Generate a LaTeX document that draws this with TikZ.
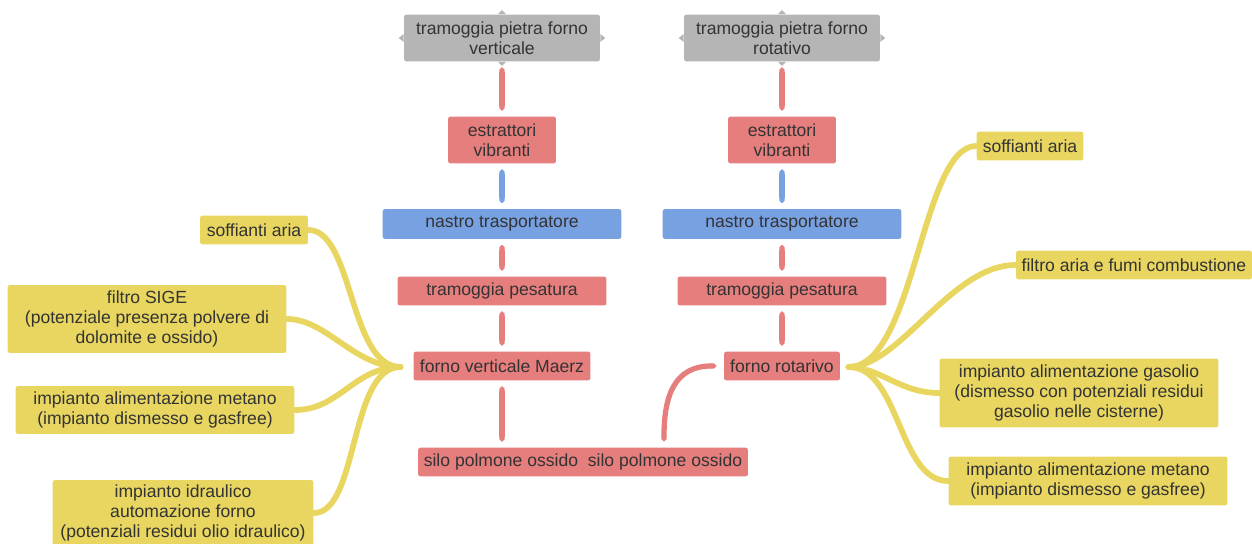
\documentclass[tikz,border=0pt]{standalone}
\usepackage{fontspec}
\setmainfont{Liberation Sans}
\usetikzlibrary{arrows.meta}
\definecolor{hopgray}{RGB}{181,181,181}
\definecolor{kilnred}{RGB}{229,126,124}
\definecolor{beltblue}{RGB}{120,161,226}
\definecolor{auxyellow}{RGB}{232,214,96}
\definecolor{txt}{RGB}{51,51,51}
\begin{document}
\begin{tikzpicture}[x=0.02cm, y=-0.02cm,
  box/.style={rounded corners=1.5pt, inner sep=0pt, align=center, text=txt,
    font=\fontsize{10}{11.3}\selectfont},
  hopbox/.style={box, fill=hopgray, minimum width=3.92cm, minimum height=0.94cm},
  redbox/.style={box, fill=kilnred},
  bluebox/.style={box, fill=beltblue},
  auxbox/.style={box, fill=auxyellow},
  redlink/.style={draw=kilnred, line width=3pt, {Triangle Cap}-{Triangle Cap},
    shorten <=3pt, shorten >=3pt},
  bluelink/.style={redlink, draw=beltblue},
  auxlink/.style={draw=auxyellow, line width=3.3pt, line cap=round,
    shorten >=2pt}]
  \useasboundingbox (0,0) rectangle (1252,544);

  % hoppers
  \node[hopbox] (vhop) at (502,38) {tramoggia pietra forno\\verticale};
  \node[hopbox] (rhop) at (782,38) {tramoggia pietra forno\\rotativo};
  \foreach \h in {vhop,rhop} {
    \fill[hopgray] (\h.north) ++(-4,0) -- ++(4,-4) -- ++(4,4) -- cycle;
    \fill[hopgray] (\h.south) ++(-4,0) -- ++(4,4) -- ++(4,-4) -- cycle;
    \fill[hopgray] (\h.west) ++(0,-4) -- ++(-5,4) -- ++(5,4) -- cycle;
    \fill[hopgray] (\h.east) ++(0,-4) -- ++(5,4) -- ++(-5,4) -- cycle;
  }

  % vertical kiln line
  \node[redbox, minimum width=2.16cm, minimum height=0.94cm] (vext) at (502,140) {estrattori\\vibranti};
  \node[bluebox, minimum width=4.78cm, minimum height=0.6cm] (vbelt) at (502,224) {nastro trasportatore};
  \node[redbox, minimum width=4.18cm, minimum height=0.58cm] (vweigh) at (502,291) {tramoggia pesatura};
  \node[redbox, minimum width=3.54cm, minimum height=0.58cm] (vkiln) at (502,366) {forno verticale Maerz};

  % rotary kiln line
  \node[redbox, minimum width=2.16cm, minimum height=0.94cm] (rext) at (782,140) {estrattori\\vibranti};
  \node[bluebox, minimum width=4.78cm, minimum height=0.6cm] (rbelt) at (782,224) {nastro trasportatore};
  \node[redbox, minimum width=4.18cm, minimum height=0.58cm] (rweigh) at (782,291) {tramoggia pesatura};
  \node[redbox, minimum width=2.32cm, minimum height=0.58cm] (rkiln) at (782,366) {forno rotarivo};

  % silo
  \node[redbox, minimum width=6.6cm, minimum height=0.58cm] (silo) at (583,462) {silo polmone ossido\ \ silo polmone ossido};
  \coordinate (siloin) at (664,447);

  \draw[redlink] (vhop) -- (vext);
  \draw[bluelink] (vext) -- (vbelt);
  \draw[redlink] (vbelt) -- (vweigh);
  \draw[redlink] (vweigh) -- (vkiln);
  \draw[redlink] (vkiln) -- (vkiln |- silo.north);
  \draw[redlink] (rhop) -- (rext);
  \draw[bluelink] (rext) -- (rbelt);
  \draw[redlink] (rbelt) -- (rweigh);
  \draw[redlink] (rweigh) -- (rkiln);
  \draw[draw=kilnred, line width=3pt, {Triangle Cap}-{Triangle Cap}, shorten <=4pt, shorten >=3pt]
    (rkiln.west) .. controls +(-50,0) and +(0,-50) .. (siloin);

  % services of the vertical kiln
  \node[auxbox, minimum width=2.16cm, minimum height=0.58cm] (vblow) at (254,230) {soffianti aria};
  \node[auxbox, minimum width=5.58cm, minimum height=1.36cm] (vfilt) at (147,319) {filtro SIGE\\(potenziale presenza polvere di\\dolomite e ossido)};
  \node[auxbox, minimum width=5.58cm, minimum height=0.96cm] (vgas) at (155,410) {impianto alimentazione metano\\(impianto dismesso e gasfree)};
  \node[auxbox, minimum width=5.22cm, minimum height=1.32cm] (vhyd) at (183,513) {impianto idraulico\\automazione forno\\(potenziali residui olio idraulico)};
  \coordinate (vhub) at (404,367);
  \draw[auxlink] (vblow.east) .. controls +(45,0) and +(-55,0) .. (vhub);
  \draw[auxlink] (vfilt.east) .. controls +(40,0) and +(-50,0) .. (vhub);
  \draw[auxlink] (vgas.east) .. controls +(45,0) and +(-50,0) .. (vhub);
  \draw[auxlink] (vhyd.east) .. controls +(45,0) and +(-55,0) .. (vhub);

  % services of the rotary kiln
  \node[auxbox, minimum width=2.14cm, minimum height=0.58cm] (rblow) at (1030,146) {soffianti aria};
  \node[auxbox, minimum width=4.72cm, minimum height=0.58cm] (rfilt) at (1134,265) {filtro aria e fumi combustione};
  \node[auxbox, minimum width=5.58cm, minimum height=1.38cm] (roil) at (1079,393) {impianto alimentazione gasolio\\(dismesso con potenziali residui\\gasolio nelle cisterne)};
  \node[auxbox, minimum width=5.58cm, minimum height=0.98cm] (rgas) at (1088,481) {impianto alimentazione metano\\(impianto dismesso e gasfree)};
  \coordinate (rhub) at (845,367);
  \draw[auxlink] (rblow.west) .. controls +(-55,0) and +(70,0) .. (rhub);
  \draw[auxlink] (rfilt.west) .. controls +(-65,0) and +(55,0) .. (rhub);
  \draw[auxlink] (roil.west) .. controls +(-40,0) and +(35,0) .. (rhub);
  \draw[auxlink] (rgas.west) .. controls +(-50,0) and +(55,0) .. (rhub);
\end{tikzpicture}
\end{document}
